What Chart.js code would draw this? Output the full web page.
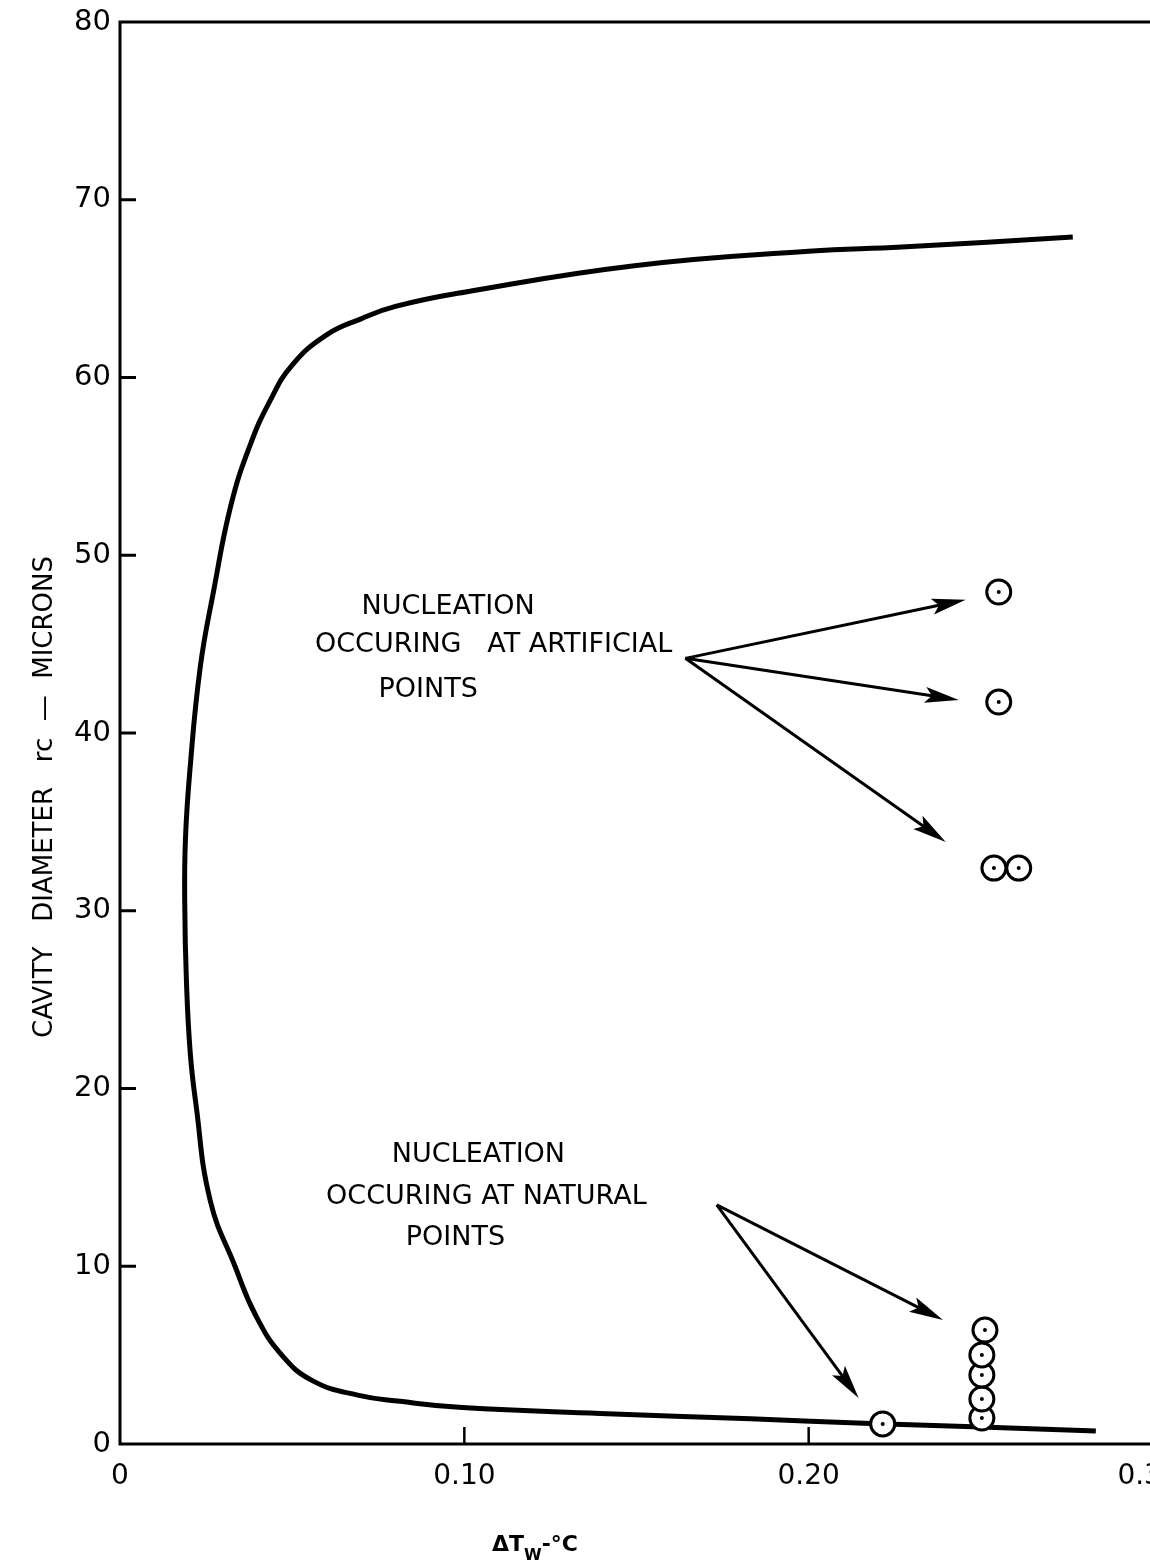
<!DOCTYPE html>
<html>
<head>
<meta charset="utf-8">
<script src="https://cdn.jsdelivr.net/npm/chart.js@4.4.1/dist/chart.umd.min.js"></script>
<style>
  html, body { margin: 0; background: #fff; overflow: hidden; }
  #chart-container { width: 1150px; height: 1567px; overflow: hidden; }
</style>
</head>
<body>
<div id="chart-container"><canvas id="myChart" width="1168" height="1567"></canvas></div>
<script>
// curve (delta T_w in deg C, cavity diameter in microns)
const curveX = [0.2767, 0.227, 0.20, 0.15, 0.10, 0.08, 0.07, 0.06, 0.05, 0.0436, 0.0378, 0.0322, 0.0272, 0.0233, 0.0203, 0.0190, 0.0188, 0.0193, 0.0204, 0.0220, 0.0262, 0.0334, 0.0395, 0.0470, 0.0560, 0.0690, 0.0814, 0.0994, 0.1395, 0.1831, 0.2180, 0.2500, 0.2834];
const curveY = [67.9, 67.34, 67.1, 66.3, 64.8, 64.0, 63.3, 62.4, 60.7, 58.7, 56.2, 52.8, 48.0, 43.7, 37.9, 34.0, 30.4, 26.0, 22.0, 19.2, 13.7, 10.0, 7.2, 5.0, 3.55, 2.75, 2.4, 2.05, 1.72, 1.42, 1.15, 0.96, 0.73];

// measured nucleation points
const artificialX = [0.2552, 0.2552, 0.2538, 0.2610];
const artificialY = [47.93, 41.74, 32.4, 32.4];
const naturalX = [0.2215, 0.2503, 0.2503, 0.2503, 0.2503, 0.2512];
const naturalY = [1.13, 1.46, 2.53, 3.88, 5.01, 6.41];

// axis ticks (last label sits half off the page edge, as in the original)
const xTickValues = [0, 0.1, 0.2, 0.3];
const xTickLabels = ['0', '0.10', '0.20', '0.3   '];
const xMarkTicks = [0.1, 0.2];
const yTickValues = [0, 10, 20, 30, 40, 50, 60, 70, 80];
const yMarkTicks = [10, 20, 30, 40, 50, 60, 70];

// annotation arrows (data units)
const artArrowFrom = [0.1642, 44.2];
const artArrowToX = [0.2456, 0.2436, 0.2398];
const artArrowToY = [47.5, 41.86, 33.87];
const natArrowFrom = [0.1733, 13.45];
const natArrowToX = [0.2145, 0.239];
const natArrowToY = [2.59, 6.98];

const artLabel = ['NUCLEATION', 'OCCURING   AT ARTIFICIAL', 'POINTS'];
const natLabel = ['NUCLEATION', 'OCCURING AT NATURAL', 'POINTS'];

const toXY = (xs, ys) => xs.map((x, i) => ({ x: x, y: ys[i] }));
const FONT = '"DejaVu Sans", sans-serif';

const drawArrow = (ctx, x1, y1, x2, y2) => {
  const a = Math.atan2(y2 - y1, x2 - x1);
  const c = Math.cos(a), s = Math.sin(a);
  const len = 34, hw = 8;
  ctx.beginPath();
  ctx.moveTo(x1, y1);
  ctx.lineTo(x2 - c * len * 0.8, y2 - s * len * 0.8);
  ctx.stroke();
  ctx.beginPath();
  ctx.moveTo(x2, y2);
  ctx.lineTo(x2 - c * len - s * hw, y2 - s * len + c * hw);
  ctx.lineTo(x2 - c * len * 0.8, y2 - s * len * 0.8);
  ctx.lineTo(x2 - c * len + s * hw, y2 - s * len - c * hw);
  ctx.closePath();
  ctx.fill();
};

const frame = {
  id: 'frame',
  beforeDatasetsDraw(chart) {
    const { ctx, chartArea: a, scales: { x, y } } = chart;
    ctx.save();
    ctx.strokeStyle = '#000';
    ctx.lineWidth = 3;
    ctx.beginPath();
    ctx.moveTo(a.right + 20, a.top);
    ctx.lineTo(a.left, a.top);
    ctx.lineTo(a.left, a.bottom);
    ctx.lineTo(a.right + 20, a.bottom);
    ctx.stroke();
    // inward tick marks
    yMarkTicks.forEach(v => {
      const py = y.getPixelForValue(v);
      ctx.beginPath();
      ctx.moveTo(a.left, py);
      ctx.lineTo(a.left + 16, py);
      ctx.stroke();
    });
    ctx.lineWidth = 2.5;
    xMarkTicks.forEach(v => {
      const px = x.getPixelForValue(v);
      ctx.beginPath();
      ctx.moveTo(px, a.bottom);
      ctx.lineTo(px, a.bottom - 17);
      ctx.stroke();
    });
    ctx.restore();
  },
  afterDatasetsDraw(chart) {
    const { ctx, scales: { x, y } } = chart;
    ctx.save();
    ctx.strokeStyle = '#000';
    ctx.fillStyle = '#000';
    ctx.lineWidth = 3;
    artArrowToX.forEach((tx, i) => {
      drawArrow(ctx, x.getPixelForValue(artArrowFrom[0]), y.getPixelForValue(artArrowFrom[1]),
        x.getPixelForValue(tx), y.getPixelForValue(artArrowToY[i]));
    });
    natArrowToX.forEach((tx, i) => {
      drawArrow(ctx, x.getPixelForValue(natArrowFrom[0]), y.getPixelForValue(natArrowFrom[1]),
        x.getPixelForValue(tx), y.getPixelForValue(natArrowToY[i]));
    });

    ctx.font = '27px ' + FONT;
    ctx.textAlign = 'center';
    ctx.textBaseline = 'middle';
    const artPos = [[0.0953, 47.09], [0.1085, 44.95], [0.0895, 42.42]];
    const natPos = [[0.1041, 16.26], [0.1064, 13.9], [0.0974, 11.59]];
    artLabel.forEach((t, i) => ctx.fillText(t, x.getPixelForValue(artPos[i][0]), y.getPixelForValue(artPos[i][1])));
    natLabel.forEach((t, i) => ctx.fillText(t, x.getPixelForValue(natPos[i][0]), y.getPixelForValue(natPos[i][1])));

    // y axis title
    ctx.save();
    ctx.translate(45, 797);
    ctx.rotate(-Math.PI / 2);
    ctx.font = '26px ' + FONT;
    ctx.fillText('CAVITY   DIAMETER   rc  \u2014  MICRONS', 0, 0);
    ctx.restore();

    // x axis title with subscript
    ctx.textAlign = 'left';
    ctx.textBaseline = 'alphabetic';
    const big = 'bold 22px ' + FONT, small = 'bold 16px ' + FONT;
    ctx.font = big;
    const w1 = ctx.measureText('\u0394T').width;
    const w3 = ctx.measureText('-\u00b0C').width;
    ctx.font = small;
    const w2 = ctx.measureText('W').width;
    let px = 535 - (w1 + w2 + w3) / 2;
    const base = 1551;
    ctx.font = big; ctx.fillText('\u0394T', px, base); px += w1;
    ctx.font = small; ctx.fillText('W', px, base + 9); px += w2;
    ctx.font = big; ctx.fillText('-\u00b0C', px, base);
    ctx.restore();
  }
};

const canvas = document.getElementById('myChart');
new Chart(canvas.getContext('2d'), {
  type: 'scatter',
  data: {
    datasets: [
      {
        label: 'curve',
        data: toXY(curveX, curveY),
        showLine: true,
        borderColor: '#000',
        borderWidth: 5,
        pointRadius: 0,
        tension: 0.45,
        order: 3,
      },
      {
        label: 'artificial',
        data: toXY(artificialX, artificialY),
        pointRadius: 12,
        borderWidth: 3,
        borderColor: '#000',
        backgroundColor: '#fff',
        order: 2,
      },
      {
        label: 'natural',
        data: toXY(naturalX, naturalY),
        pointRadius: 12,
        borderWidth: 3,
        borderColor: '#000',
        backgroundColor: '#fff',
        order: 2,
      },
      {
        label: 'centres',
        data: toXY(artificialX.concat(naturalX), artificialY.concat(naturalY)),
        pointRadius: 2,
        borderWidth: 0,
        backgroundColor: '#000',
        order: 1,
      },
    ],
  },
  options: {
    responsive: false,
    animation: false,
    layout: { padding: { top: 22, right: 1, left: 0, bottom: 0 } },
    plugins: { legend: { display: false }, tooltip: { enabled: false } },
    scales: {
      x: {
        type: 'linear',
        min: 0,
        max: 0.3,
        grid: { display: false },
        border: { display: false },
        afterBuildTicks: s => { s.ticks = xTickValues.map(v => ({ value: v })); },
        afterFit: s => { s.height = 123; s.paddingLeft = 0; s.paddingRight = 0; },
        ticks: {
          color: '#000',
          padding: 8,
          maxRotation: 0,
          autoSkip: false,
          font: { family: FONT, size: 28 },
          callback: (v, i) => xTickLabels[i],
        },
      },
      y: {
        type: 'linear',
        min: 0,
        max: 80,
        grid: { display: false },
        border: { display: false },
        afterBuildTicks: s => { s.ticks = yTickValues.map(v => ({ value: v })); },
        afterFit: s => { s.width = 120; s.paddingTop = 0; s.paddingBottom = 0; },
        ticks: {
          color: '#000',
          padding: 1,
          font: { family: FONT, size: 29 },
        },
      },
    },
  },
  plugins: [frame],
});
</script>
</body>
</html>
